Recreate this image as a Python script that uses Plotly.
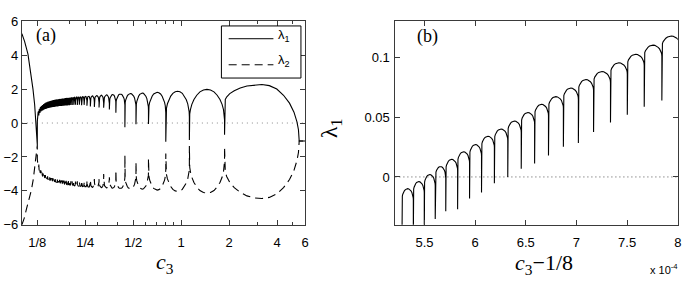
import math
import plotly.graph_objects as go

# ---------------- panel (a) data : eigenvalues vs c3 ----------------
# branch left of c3 = 1/8
LEFT_C3_L1 = [0.1, 0.1041, 0.1092, 0.1131, 0.1174, 0.1203, 0.1220, 0.1232, 0.125]
LEFT_L1 = [5.27, 4.8, 4.06, 3.13, 2.0, 1.08, 0.33, -0.13, -1.3]
LEFT_C3_L2 = [0.1, 0.1035, 0.1069, 0.111, 0.1148, 0.118, 0.1203, 0.1222, 0.1235, 0.125]
LEFT_L2 = [-6.0, -5.6, -5.06, -4.5, -3.94, -3.3, -2.64, -2.15, -1.8, -1.3]

# cusp positions (arc boundaries) right of 1/8
CUSPS_A = [
    0.125,
    0.1257, 0.1277, 0.1298, 0.1318, 0.1339, 0.1361, 0.1382, 0.1404, 0.1427, 0.1450,
    0.1473, 0.1496, 0.1520, 0.1544, 0.1569, 0.1594, 0.1619, 0.1645, 0.1671, 0.1698,
    0.1725, 0.1753, 0.1781, 0.1809, 0.1838, 0.1867, 0.1897, 0.1927,
    0.1958, 0.1992, 0.2029, 0.2071, 0.2117, 0.2169, 0.2228, 0.2294, 0.2370, 0.2458,
    0.256, 0.269, 0.285, 0.305, 0.326, 0.354, 0.389, 0.443, 0.52, 0.623, 0.80, 1.125, 1.87,
    5.5]
# lambda_1: top of each arc, bottom of each cusp spike
PEAK1 = [
    0.4, 0.65, 0.8, 0.92, 1.0, 1.06, 1.11, 1.15, 1.19, 1.22,
    1.25, 1.27, 1.29, 1.31, 1.33, 1.34, 1.36, 1.37, 1.38, 1.39,
    1.40, 1.41, 1.42, 1.43, 1.44, 1.45, 1.46, 1.47,
    1.47, 1.48, 1.49, 1.50, 1.51, 1.52, 1.53, 1.54, 1.55, 1.56,
    1.57,
    1.58, 1.60, 1.62, 1.64, 1.66, 1.68, 1.71, 1.74, 1.77, 1.81, 1.87, 1.98, 2.27]
DIP1 = [
    -1.3,
    0.2, 0.45, 0.6, 0.68, 0.72, 0.76, 0.8, 0.83, 0.85, 0.87,
    0.89, 0.9, 0.92, 0.93, 0.94, 0.95, 0.96, 0.97, 0.98, 0.99,
    1.0, 1.0, 1.01, 1.02, 1.02, 1.03, 1.04, 1.04,
    1.05, 1.05, 1.06, 1.06, 1.07, 1.08, 1.06, 1.08, 1.05, 1.07,
    1.02, 0.98, 0.95, 0.92, 0.9, 0.8, 0.6, -0.25, -0.07, -0.05, -1.1, -1.0, -0.69,
    -1.06]
# lambda_2: bottom of each arc, top of each cusp spike
TROUGH2 = [
    -2.3, -2.6, -2.8, -2.95, -3.05, -3.12, -3.18, -3.22, -3.26, -3.29,
    -3.32, -3.35, -3.37, -3.39, -3.41, -3.43, -3.45, -3.47, -3.49, -3.50,
    -3.52, -3.53, -3.55, -3.56, -3.58, -3.59, -3.60, -3.62,
    -3.63, -3.64, -3.66, -3.67, -3.68, -3.70, -3.71, -3.72, -3.74, -3.75,
    -3.76,
    -3.78, -3.79, -3.80, -3.81, -3.82, -3.84, -3.86, -3.88, -3.90, -3.95, -4.03, -4.13, -4.45]
TIP2 = [
    -1.3,
    -2.2, -2.45, -2.65, -2.8, -2.9, -2.97, -3.03, -3.07, -3.11, -3.14,
    -3.17, -3.2, -3.22, -3.24, -3.26, -3.28, -3.3, -3.31, -3.33, -3.34,
    -3.35, -3.36, -3.37, -3.38, -3.39, -3.4, -3.41, -3.42,
    -3.42, -3.43, -3.44, -3.44, -3.45, -3.45, -3.43, -3.45, -3.40, -3.44,
    -3.38, -3.35, -3.3, -3.3, -3.0, -3.2, -2.8, -1.9, -2.3, -2.1, -1.8, -1.35, -1.43,
    -1.06]
# arc body heights for the resolved (wide) arcs, left to right
BODY1 = [0.35, 0.38, 0.4, 0.45, 0.5, 0.55, 0.65, 0.8, 1.0, 1.2, 1.5, 1.8, 1.1]
BODY2 = [0.35, 0.38, 0.4, 0.45, 0.5, 0.55, 0.65, 0.8, 1.0, 1.2, 1.5, 1.9, 1.95]
TAIL_C3 = [5.5, 6.0]
TAIL_VAL = [-1.06, -1.06]

# ---------------- panel (b) data : lambda_1 vs c3-1/8 (x1e-4) ----------------
CUSPS_B = [5.278, 5.390, 5.498, 5.606, 5.710, 5.827, 5.945, 6.063, 6.190, 6.322, 6.455,
           6.587, 6.724, 6.871, 7.019, 7.169, 7.336, 7.502, 7.669, 7.843, 8.03]
PEAK_B = [-0.0098, -0.0039, 0.002, 0.0087, 0.0147, 0.021, 0.027, 0.034, 0.040, 0.0467,
          0.0538, 0.0606, 0.067, 0.0742, 0.0813, 0.088, 0.0953, 0.1024, 0.110, 0.1176]
DIP_B = [-0.05, -0.05, -0.05, -0.0352, -0.0287, -0.027, -0.018, -0.013, -0.0053, 0.0,
         0.0068, 0.0113, 0.0178, 0.0252, 0.0283, 0.0375, 0.0454, 0.052, 0.0585, 0.0638, 0.07]

# ---------------- tick labels ----------------
XA_TICKVALS = [1 / 8, 1 / 4, 1 / 2, 1, 2, 4, 6]
XA_TICKTEXT = ["1/8", "1/4", "1/2", "1", "2", "4", "6"]
XA_MINOR = [0.1, 0.2, 0.3, 0.4, 0.6, 0.7, 0.8, 0.9, 3, 5]
YA_TICKVALS = [-6, -4, -2, 0, 2, 4, 6]
YA_TICKTEXT = ["\u22126", "\u22124", "\u22122", "0", "2", "4", "6"]
XB_TICKVALS = [5.5, 6, 6.5, 7, 7.5, 8]
XB_TICKTEXT = ["5.5", "6", "6.5", "7", "7.5", "8"]
YB_TICKVALS = [0, 0.05, 0.1]
YB_TICKTEXT = ["0", "0.05", "0.1"]

# ---------------- shape constants (rendering only) ----------------
DENSE_BODY1 = 0.3
DENSE_BODY2 = 0.18
BODY_B = 0.0095
U_PROFILE = [0.0, 0.01, 0.03, 0.07, 0.13, 0.21, 0.3, 0.4, 0.5]
P_PROFILE = [0.0, 0.2, 0.34, 0.51, 0.67, 0.81, 0.92, 0.98, 1.0]


def build_arcs(bounds, tops, ends, bodies, sign, logx, last_to_end):
    xs, ys = [], []
    n = len(tops)

    def xpos(a, b, u):
        if logx:
            la, lb = math.log10(a), math.log10(b)
            return 10 ** (la + (lb - la) * u)
        return a + (b - a) * u

    for i in range(n):
        xa, xb = bounds[i], bounds[i + 1]
        top = tops[i]
        h = bodies(i)
        ka = top - sign * h
        kb = top - sign * h
        if sign > 0:
            ka = min(max(ka, ends[i]), top)
            kb = min(max(kb, ends[i + 1]), top)
        else:
            ka = max(min(ka, ends[i]), top)
            kb = max(min(kb, ends[i + 1]), top)
        if last_to_end and i == n - 1:
            kb = ends[i + 1]
        xs.append(xa)
        ys.append(ends[i])
        for u, p in zip(U_PROFILE, P_PROFILE):
            xs.append(xpos(xa, xb, u))
            ys.append(ka + (top - ka) * p)
        for u, p in zip(reversed(U_PROFILE[:-1]), reversed(P_PROFILE[:-1])):
            xs.append(xpos(xa, xb, 1 - u))
            ys.append(kb + (top - kb) * p)
    xs.append(bounds[-1])
    ys.append(ends[-1])
    return xs, ys


n_dense = len(PEAK1) - len(BODY1)
a1x, a1y = build_arcs(CUSPS_A, PEAK1, DIP1,
                      lambda i: BODY1[i - n_dense] if i >= n_dense else DENSE_BODY1,
                      +1, True, True)
a2x, a2y = build_arcs(CUSPS_A, TROUGH2, TIP2,
                      lambda i: BODY2[i - n_dense] if i >= n_dense else DENSE_BODY2,
                      -1, True, True)
l1x = LEFT_C3_L1 + a1x + TAIL_C3
l1y = LEFT_L1 + a1y + TAIL_VAL
l2x = LEFT_C3_L2 + a2x + TAIL_C3
l2y = LEFT_L2 + a2y + TAIL_VAL

bx, by = build_arcs(CUSPS_B, PEAK_B, DIP_B, lambda i: BODY_B, +1, False, False)

W, H = 692, 284


def px(x):
    return x / W


def py(y):
    return 1 - y / H


AX_COL = "#3a3a3a"
TICKFONT = dict(family="Liberation Sans, Arial, sans-serif", size=13, color="black")
DASH = "8px,5px"

fig = go.Figure()
fig.add_trace(go.Scatter(x=l2x, y=l2y, mode="lines", xaxis="x", yaxis="y",
                         line=dict(color="black", width=1.1, dash=DASH),
                         showlegend=False, hoverinfo="skip"))
fig.add_trace(go.Scatter(x=l1x, y=l1y, mode="lines", xaxis="x", yaxis="y",
                         line=dict(color="black", width=1.1),
                         showlegend=False, hoverinfo="skip"))
fig.add_trace(go.Scatter(x=bx, y=by, mode="lines", xaxis="x2", yaxis="y2",
                         line=dict(color="black", width=1.1),
                         showlegend=False, hoverinfo="skip"))

common = dict(showgrid=False, zeroline=False, showline=True, linecolor=AX_COL,
              linewidth=1, ticks="inside", tickcolor=AX_COL, tickwidth=1,
              mirror="allticks", tickfont=TICKFONT)

fig.update_layout(
    width=W, height=H, autosize=False,
    margin=dict(l=0, r=0, t=0, b=0),
    paper_bgcolor="white", plot_bgcolor="white",
    xaxis=dict(domain=[px(22), px(307)], type="log",
               range=[math.log10(0.1), math.log10(6.0)],
               tickmode="array", tickvals=XA_TICKVALS, ticktext=XA_TICKTEXT,
               ticklen=5, anchor="y", ticklabelstandoff=6,
               minor=dict(tickmode="array", tickvals=XA_MINOR, ticks="inside",
                          ticklen=2.5, tickcolor=AX_COL),
               **common),
    yaxis=dict(domain=[py(230), py(15)], range=[-6, 6], anchor="x",
               tickmode="array", tickvals=YA_TICKVALS, ticktext=YA_TICKTEXT,
               ticklen=5, **common),
    xaxis2=dict(domain=[px(397.7), px(681.7)], range=[5.213, 8.0], anchor="y2",
                tickmode="array", tickvals=XB_TICKVALS, ticktext=XB_TICKTEXT,
                ticklen=5, ticklabelstandoff=6, **common),
    yaxis2=dict(domain=[py(230), py(15)], range=[-0.04, 0.13], anchor="x2",
                tickmode="array", tickvals=YB_TICKVALS, ticktext=YB_TICKTEXT,
                ticklen=5, ticklabelstandoff=2, **common),
)

shapes = [
    dict(type="line", xref="paper", yref="y", x0=px(22), x1=px(307), y0=0, y1=0,
         line=dict(color="#8a8a8a", width=1, dash="1px,4px"), layer="below"),
    dict(type="line", xref="paper", yref="y2", x0=px(397.7), x1=px(681.7), y0=0, y1=0,
         line=dict(color="#555555", width=1, dash="1px,3px"), layer="below"),
    # legend box
    dict(type="rect", xref="paper", yref="paper", x0=px(222.7), x1=px(302.7),
         y0=py(75), y1=py(20), line=dict(color="black", width=1), fillcolor="white"),
    dict(type="line", xref="paper", yref="paper", x0=px(230), x1=px(275),
         y0=py(33.5), y1=py(33.5), line=dict(color="black", width=1)),
    dict(type="line", xref="paper", yref="paper", x0=px(230), x1=px(275),
         y0=py(61), y1=py(61), line=dict(color="black", width=1, dash=DASH)),
]
fig.update_layout(shapes=shapes)

SERIF = "Liberation Serif, Times New Roman, serif"
SANS = "Liberation Sans, Arial, sans-serif"
ann = [
    dict(text="(a)", x=px(46.5), y=py(30), font=dict(family=SERIF, size=18)),
    dict(text="(b)", x=px(430), y=py(31), font=dict(family=SERIF, size=18)),
    dict(text="\u03bb<sub>1</sub>", x=px(278), y=py(30), xanchor="left",
         font=dict(family=SANS, size=13)),
    dict(text="\u03bb<sub>2</sub>", x=px(278), y=py(57), xanchor="left",
         font=dict(family=SANS, size=13)),
    dict(text="<i>c</i><sub>3</sub>", x=px(166), y=py(270),
         font=dict(family=SERIF, size=22)),
    dict(text="<i>c</i><sub>3</sub>\u22121/8", x=px(547), y=py(271),
         font=dict(family=SERIF, size=22)),
    dict(text="x 10<sup>-4</sup>", x=px(668), y=py(277),
         font=dict(family=SANS, size=11)),
    dict(text="\u03bb<sub>1</sub>", x=px(333), y=py(128), textangle=-90,
         font=dict(family=SERIF, size=24)),
]
for a in ann:
    a.setdefault("xanchor", "center")
    a.update(xref="paper", yref="paper", showarrow=False, yanchor="middle")
    a["font"]["color"] = "black"
fig.update_layout(annotations=ann)

fig.write_html("out.html", config={"displayModeBar": False, "staticPlot": True},
               post_script="document.body.style.margin='0';"
                           "document.body.style.padding='0';"
                           "document.body.style.overflow='hidden';")
